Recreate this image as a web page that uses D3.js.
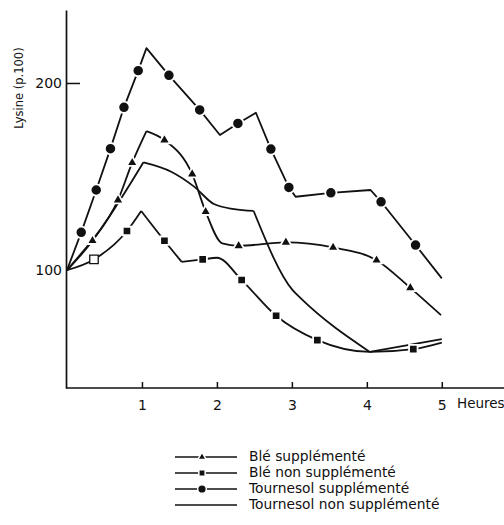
<!DOCTYPE html>
<html>
<head>
<meta charset="utf-8">
<title></title>
<script src="https://cdn.jsdelivr.net/npm/d3@7/dist/d3.min.js"></script>
<style>
  body { margin: 0; background: #fff; }
  text { font-family: "DejaVu Sans", sans-serif; fill: #111; }
</style>
</head>
<body>
<svg id="svg"></svg>
<script>
var width = 504;
var height = 525;

// hours / lysine (p.100)
const bleSuppX  = [0, 0.34, 0.68, 0.87, 1.06, 1.30, 1.67, 1.85, 2.07, 2.29, 2.92, 3.55, 4.13, 4.58, 4.99];
const bleSuppY  = [100, 115.7, 137.4, 157.4, 174.3, 169.5, 151.3, 131.2, 114.3, 113.0, 114.8, 112.1, 105.3, 90.5, 75.9];
const bleSuppM  = [0, 1, 1, 1, 0, 1, 1, 1, 0, 1, 1, 1, 1, 1, 0];
const bleSuppBreaks = [4];

const bleNonX = [0, 0.36, 0.80, 0.99, 1.30, 1.53, 1.81, 2.00, 2.33, 2.79, 3.34, 4.04, 4.62, 5.00];
const bleNonY = [100, 105.7, 120.9, 131.6, 115.7, 104.4, 105.7, 106.6, 94.7, 75.6, 62.6, 56.3, 57.8, 61.3];
const bleNonM = [0, 1, 1, 0, 1, 0, 1, 0, 1, 1, 1, 0, 1, 0];
const bleNonBreaks = [3, 5];

const tournSuppX = [0, 0.19, 0.39, 0.58, 0.76, 0.95, 1.06, 1.36, 1.77, 2.04, 2.28, 2.52, 2.72, 2.96, 3.05, 3.52, 4.05, 4.19, 4.65, 5.00];
const tournSuppY = [100, 120.2, 142.8, 164.9, 187.0, 206.6, 218.6, 204.1, 185.6, 172.2, 178.4, 184.1, 164.7, 144.2, 139.2, 141.3, 142.8, 136.5, 113.4, 95.6];
const tournSuppM = [0, 1, 1, 1, 1, 1, 0, 1, 1, 0, 1, 0, 1, 1, 0, 1, 0, 1, 1, 0];

const tournNonX = [0, 0.45, 1.02, 1.39, 1.70, 1.96, 2.23, 2.49, 3.01, 3.12, 4.04, 5.00];
const tournNonY = [100, 122, 157.6, 152.6, 144.5, 135.3, 132.6, 131.6, 89.3, 84.9, 56.3, 63.1];
const tournNonBreaks = [2, 7, 10];

const xTicks = [1, 2, 3, 4, 5];
const yTicks = [100, 200];
const legendLabels = ["Blé supplémenté", "Blé non supplémenté", "Tournesol supplémenté", "Tournesol non supplémenté"];

const svg = d3.select('#svg')
    .attr('width', width)
    .attr('height', height);

const x = d3.scaleLinear().domain([0, 5.83]).range([67, 504]);
const y = d3.scaleLinear().domain([37, 239]).range([388, 10]);

// axes
const xAxis = svg.append('g')
    .attr('transform', 'translate(0,388)')
    .call(d3.axisBottom(x).tickValues(xTicks).tickSizeInner(-6).tickSizeOuter(0).tickPadding(12)
        .tickFormat(d3.format('d')));
xAxis.select('.domain').attr('stroke', '#111').attr('stroke-width', 1.7).attr('d', 'M66,0H504');
xAxis.selectAll('.tick line').attr('stroke', '#111').attr('stroke-width', 1.5);
xAxis.selectAll('.tick text').style('font-size', '14px').attr('fill', '#111');

const yAxis = svg.append('g')
    .attr('transform', 'translate(66,0)')
    .call(d3.axisLeft(y).tickValues(yTicks).tickSizeInner(-14).tickSizeOuter(0).tickPadding(4));
yAxis.select('.domain').attr('stroke', '#111').attr('stroke-width', 1.7);
yAxis.selectAll('.tick line').attr('stroke', '#111').attr('stroke-width', 1.5)
    .attr('display', d => d === 100 ? 'none' : null);
yAxis.selectAll('.tick text').style('font-size', '14px').attr('fill', '#111');

svg.append('text')
    .attr('x', 457).attr('y', 408)
    .style('font-size', '13.5px')
    .text('Heures');

svg.append('text')
    .attr('transform', 'translate(23,88) rotate(-90)')
    .attr('text-anchor', 'middle')
    .style('font-size', '11.5px')
    .text('Lysine (p.100)');

// helpers
function pts(xs, ys) { return xs.map((v, i) => [v, ys[i]]); }
function split(p, breaks) {
    const out = [];
    let s = 0;
    breaks.concat([p.length - 1]).forEach(b => { out.push(p.slice(s, b + 1)); s = b; });
    return out;
}
const smooth = d3.line().x(d => x(d[0])).y(d => y(d[1])).curve(d3.curveMonotoneX);
const straight = d3.line().x(d => x(d[0])).y(d => y(d[1]));

function drawLine(parts, gen) {
    svg.append('g').selectAll('path')
        .data(parts)
        .join('path')
        .attr('d', gen)
        .attr('fill', 'none')
        .attr('stroke', '#111')
        .attr('stroke-width', 1.8)
        .attr('stroke-linejoin', 'round');
}

drawLine(split(pts(tournNonX, tournNonY), tournNonBreaks), smooth);
drawLine([pts(tournSuppX, tournSuppY)], straight);
drawLine(split(pts(bleSuppX, bleSuppY), bleSuppBreaks), smooth);
drawLine(split(pts(bleNonX, bleNonY), bleNonBreaks), smooth);

function drawMarks(xs, ys, ms, type, size, hollowFirst) {
    const data = pts(xs, ys).filter((d, i) => ms[i]);
    svg.append('g').selectAll('path')
        .data(data)
        .join('path')
        .attr('transform', d => `translate(${x(d[0])},${y(d[1])})`)
        .attr('d', d3.symbol().type(type).size(size))
        .attr('fill', (d, i) => hollowFirst && i === 0 ? '#fff' : '#111')
        .attr('stroke', (d, i) => hollowFirst && i === 0 ? '#111' : '#fff')
        .attr('stroke-width', (d, i) => hollowFirst && i === 0 ? 1.3 : 1.8);
}

drawMarks(tournSuppX, tournSuppY, tournSuppM, d3.symbolCircle, 100, false);
drawMarks(bleSuppX, bleSuppY, bleSuppM, d3.symbolTriangle, 55, false);
drawMarks(bleNonX, bleNonY, bleNonM, d3.symbolSquare, 72, true);

// legend
const legendTypes = [d3.symbolTriangle, d3.symbolSquare, d3.symbolCircle, null];
const legendSizes = [30, 40, 60, 0];
const legend = svg.append('g').selectAll('g')
    .data(legendLabels)
    .join('g')
    .attr('transform', (d, i) => `translate(0,${457 + i * 16})`);
legend.append('line')
    .attr('x1', 175).attr('x2', 237)
    .attr('stroke', '#111').attr('stroke-width', 1.5);
legend.filter((d, i) => legendTypes[i])
    .append('path')
    .attr('transform', 'translate(202,0)')
    .attr('d', d => d3.symbol().type(legendTypes[legendLabels.indexOf(d)]).size(legendSizes[legendLabels.indexOf(d)])())
    .attr('fill', '#111')
    .attr('stroke', '#fff').attr('stroke-width', 1.5);
legend.append('text')
    .attr('x', 249).attr('y', 4)
    .style('font-size', '13.8px')
    .text(d => d);
</script>
</body>
</html>
